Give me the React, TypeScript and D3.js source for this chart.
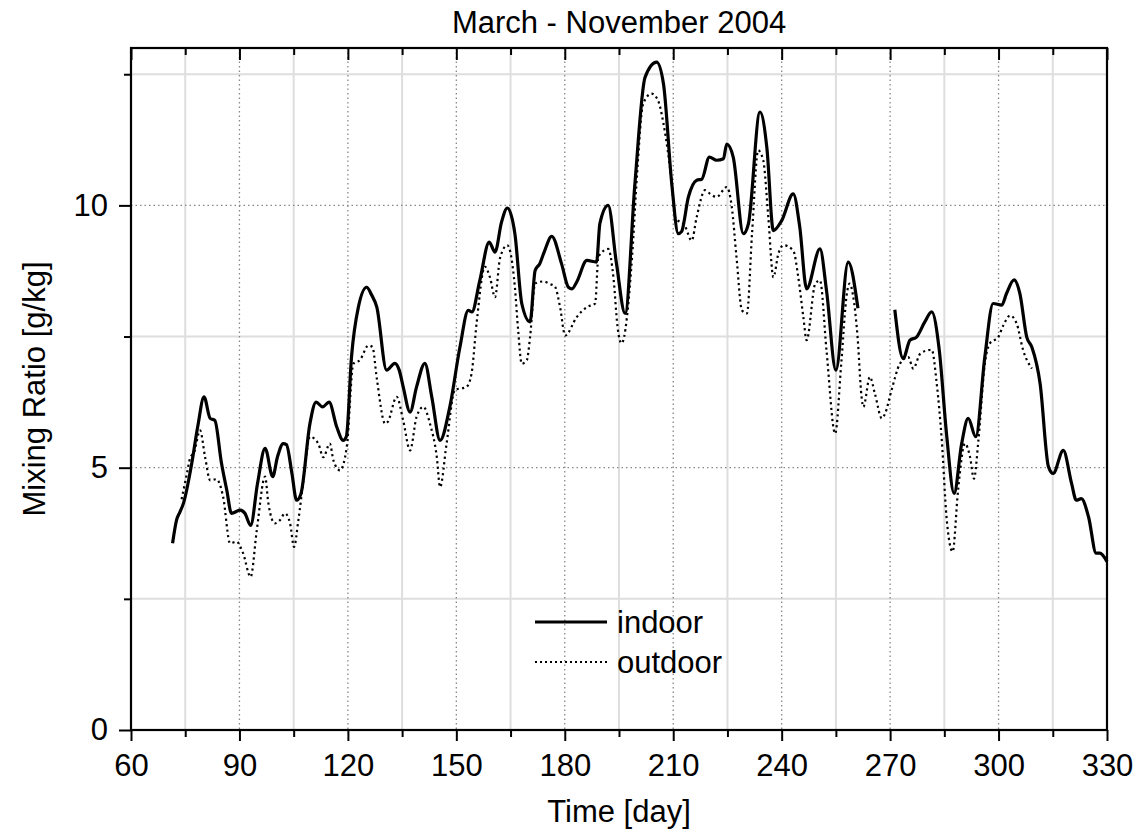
import React, { useEffect, useRef } from 'react';
import * as d3 from 'd3';

// indoor series, null marks the gap in the record
const indoorDays = [71.5, 72.6, 73.5, 74.5, 76.8, 78.5, 80.2, 81.9, 83.2, 85, 86.5, 87.8, 90.2, 91.5, 93.1, 95, 97.1, 99.2, 100.5, 102.1, 103, 104.5, 105.8, 107, 109.5, 111.2, 113, 114.8, 116.9, 118.7, 119.6, 121, 122.9, 125.2, 126.5, 128, 130.7, 133, 134.2, 135.3, 137.2, 139, 141.3, 143.2, 145.5, 148.2, 151, 153.3, 154.3, 156.5, 159.1, 160.7, 162.5, 164.1, 166.2, 168.1, 170.4, 171.8, 173.1, 174.3, 176.4, 179.1, 181, 182, 183.3, 186.1, 188.8, 189.7, 192, 194.3, 196.7, 199.4, 202.2, 205.4, 207.3, 209.6, 211.4, 212.3, 214.2, 216.5, 217.9, 220, 222, 223.9, 224.8, 226.6, 229.4, 230.8, 234, 235.9, 237.7, 240, 243.2, 245, 246.9, 250.6, 252.4, 255, 258.4, 261.1, 266, 271.3, 273.6, 275.5, 277.3, 279.6, 281.5, 283.6, 285.6, 287.7, 289.8, 291.6, 293.7, 296.2, 298.5, 300.9, 302.2, 304.3, 305.9, 307.8, 309.2, 311.5, 313.8, 315.1, 317.9, 320.2, 321.5, 322.9, 324.9, 327, 328, 330];
const indoorValues = [3.56, 4.0, 4.15, 4.32, 5.08, 5.8, 6.35, 5.94, 5.9, 5.1, 4.57, 4.13, 4.19, 4.13, 3.9, 4.7, 5.37, 4.83, 5.2, 5.46, 5.44, 4.9, 4.38, 4.5, 5.84, 6.25, 6.16, 6.25, 5.78, 5.52, 5.6, 7.11, 8.06, 8.44, 8.3, 8.06, 6.86, 6.99, 6.86, 6.54, 6.06, 6.54, 6.99, 6.35, 5.52, 6.16, 7.3, 8.0, 7.97, 8.57, 9.3, 9.11, 9.68, 9.95, 9.46, 8.13, 7.78, 8.76, 8.89, 9.11, 9.41, 8.89, 8.44, 8.41, 8.54, 8.95, 8.92, 9.65, 10.0, 8.89, 7.94, 10.41, 12.44, 12.73, 12.32, 10.41, 9.46, 9.5, 10.16, 10.48, 10.5, 10.92, 10.86, 10.89, 11.17, 10.92, 9.46, 9.65, 11.78, 11.1, 9.52, 9.71, 10.22, 9.59, 8.41, 9.17, 8.38, 6.86, 8.92, 8.04, null, 8.01, 7.08, 7.43, 7.49, 7.78, 7.97, 7.24, 5.65, 4.51, 5.46, 5.94, 5.59, 7.11, 8.13, 8.1, 8.32, 8.58, 8.32, 7.49, 7.3, 6.6, 5.02, 4.89, 5.33, 4.7, 4.38, 4.41, 4.06, 3.37, 3.37, 3.21];

const outdoorDays = [74, 75.5, 76.3, 77.5, 79.1, 80.5, 81.9, 83.6, 85.5, 87.4, 89.2, 91, 93.1, 94.8, 97.1, 98, 99.8, 101.2, 102.6, 104, 105.1, 106.3, 107.7, 109.5, 111.8, 113.2, 115, 116, 117.8, 119.7, 121.5, 123.3, 125.7, 126.8, 128, 130.3, 131, 133.5, 135.3, 137.2, 139, 140.9, 142.7, 144.6, 145.5, 147.3, 149.6, 152.8, 154.2, 155.6, 157.9, 159.3, 160.7, 162.1, 164.1, 166.2, 167.1, 168.1, 169.5, 170.4, 171.8, 174, 176, 177.3, 178.7, 180.1, 183.3, 186.1, 188.4, 189.3, 192, 193.5, 194.6, 195.7, 198.6, 200, 201.7, 204, 205.8, 207.3, 209.6, 210.5, 213.3, 215.1, 216.5, 218.8, 220.2, 222, 224.8, 226.2, 227.5, 229, 230.4, 231.8, 233.5, 234.9, 236.3, 237.7, 239.1, 240.5, 243.2, 244.6, 246, 246.9, 249.3, 250.6, 252.4, 254.8, 256.5, 258, 258.8, 259.7, 261, 262.1, 262.6, 264.4, 265.8, 267.7, 268.6, 270.4, 272.7, 275, 276.4, 278.3, 280.6, 281.5, 282.9, 284.3, 285.6, 287.3, 288.8, 290.7, 292.1, 293.2, 294.4, 296.2, 297.6, 299.9, 301.3, 303.2, 305, 306.8, 309.2];
const outdoorValues = [4.4, 4.9, 5.17, 5.3, 5.71, 5.2, 4.76, 4.78, 4.44, 3.56, 3.59, 3.37, 2.92, 3.81, 4.83, 4.32, 3.94, 4.0, 4.13, 3.94, 3.49, 4.0, 4.76, 5.59, 5.46, 5.2, 5.46, 5.14, 4.95, 5.4, 6.98, 7.05, 7.33, 7.3, 6.7, 5.84, 5.87, 6.35, 5.9, 5.33, 5.97, 6.16, 5.84, 5.2, 4.63, 5.46, 6.48, 6.54, 6.79, 7.75, 8.83, 8.63, 8.25, 9.0, 9.24, 8.44, 7.62, 6.98, 7.05, 7.49, 8.51, 8.55, 8.5, 8.45, 8.06, 7.52, 7.87, 8.06, 8.13, 9.02, 9.17, 8.6, 7.68, 7.37, 9.0, 10.6, 11.94, 12.13, 12.0, 11.56, 10.41, 9.78, 9.6, 9.33, 9.78, 10.29, 10.22, 10.16, 10.35, 9.97, 9.02, 8.0, 7.94, 9.46, 11.05, 10.86, 9.78, 8.63, 9.08, 9.24, 9.14, 8.63, 7.87, 7.43, 8.51, 8.57, 7.24, 5.65, 7.0, 8.3, 8.51, 8.3, 7.49, 6.35, 6.16, 6.73, 6.41, 5.94, 6.03, 6.48, 6.98, 7.11, 6.89, 7.17, 7.24, 7.25, 6.6, 5.52, 4.06, 3.4, 4.57, 5.46, 5.21, 4.79, 5.5, 6.98, 7.37, 7.49, 7.71, 7.9, 7.75, 7.24, 6.89];

const xTicks = [60, 90, 120, 150, 180, 210, 240, 270, 300, 330];
const xMinorTicks = [75, 105, 135, 165, 195, 225, 255, 285, 315];
const yTicks = [0, 5, 10];
const yMinorTicks = [2.5, 7.5, 12.5];

const FONT = '"Liberation Sans", Arial, sans-serif';
const FS = 31;

const Chart = () => {
  const ref = useRef<SVGSVGElement>(null);

  useEffect(() => {
    const root = d3.select(ref.current);
    root.selectAll('*').remove();

    const margin = { top: 48, right: 33, bottom: 105, left: 131 },
      width = 1140 - margin.left - margin.right,
      height = 835 - margin.top - margin.bottom;

    const svg = root.append('g').attr('transform', `translate(${margin.left},${margin.top})`);

    const x = d3.scaleLinear().domain([60, 330]).range([0, width]);
    const y = d3.scaleLinear().domain([0, 13]).range([height, 0]);

    // light minor grid
    svg.append('g').selectAll('line').data(xMinorTicks).join('line')
      .attr('x1', d => x(d)).attr('x2', d => x(d)).attr('y1', 0).attr('y2', height)
      .attr('stroke', '#dedede').attr('stroke-width', 2);
    svg.append('g').selectAll('line').data(yMinorTicks).join('line')
      .attr('x1', 0).attr('x2', width).attr('y1', d => y(d)).attr('y2', d => y(d))
      .attr('stroke', '#dedede').attr('stroke-width', 2);

    // dotted major grid
    svg.append('g').selectAll('line').data(xTicks.slice(1, -1)).join('line')
      .attr('x1', d => x(d)).attr('x2', d => x(d)).attr('y1', 0).attr('y2', height)
      .attr('stroke', '#888').attr('stroke-width', 1.3).attr('stroke-dasharray', '1.5,3');
    svg.append('g').selectAll('line').data(yTicks.slice(1)).join('line')
      .attr('x1', 0).attr('x2', width).attr('y1', d => y(d)).attr('y2', d => y(d))
      .attr('stroke', '#888').attr('stroke-width', 1.3).attr('stroke-dasharray', '1.5,3');

    const styleAxis = (g) => {
      g.select('.domain').remove();
      g.selectAll('line').attr('stroke', '#000').attr('stroke-width', 2);
      g.selectAll('text').attr('font-family', FONT).attr('font-size', FS).attr('fill', '#000');
    };

    // bottom axis
    svg.append('g').attr('transform', `translate(0,${height})`)
      .call(d3.axisBottom(x).tickValues(xTicks).tickSize(11).tickPadding(13).tickFormat(d3.format('d')))
      .call(styleAxis);
    svg.append('g').attr('transform', `translate(0,${height})`)
      .call(d3.axisBottom(x).tickValues(xMinorTicks).tickSize(7).tickFormat(() => ''))
      .call(styleAxis);
    // top ticks point inward
    svg.append('g')
      .call(d3.axisBottom(x).tickValues(xTicks).tickSize(12).tickFormat(() => ''))
      .call(styleAxis);
    svg.append('g')
      .call(d3.axisBottom(x).tickValues(xMinorTicks).tickSize(7).tickFormat(() => ''))
      .call(styleAxis);
    // left axis
    svg.append('g')
      .call(d3.axisLeft(y).tickValues(yTicks).tickSize(12).tickPadding(11).tickFormat(d3.format('d')))
      .call(styleAxis);
    svg.append('g')
      .call(d3.axisLeft(y).tickValues(yMinorTicks).tickSize(7).tickFormat(() => ''))
      .call(styleAxis);

    // frame
    svg.append('rect').attr('width', width).attr('height', height)
      .attr('fill', 'none').attr('stroke', '#000').attr('stroke-width', 2.2);

    const line = d3.line()
      .defined(d => d[1] != null)
      .x(d => x(d[0]))
      .y(d => y(d[1]))
      .curve(d3.curveMonotoneX);

    const outdoor = outdoorDays.map((d, i) => [d, outdoorValues[i]]);
    const indoor = indoorDays.map((d, i) => [d, indoorValues[i]]);

    svg.append('path').datum(outdoor)
      .attr('d', line).attr('fill', 'none')
      .attr('stroke', '#000').attr('stroke-width', 2.2).attr('stroke-dasharray', '2.2,3.3');
    svg.append('path').datum(indoor)
      .attr('d', line).attr('fill', 'none')
      .attr('stroke', '#000').attr('stroke-width', 3.2).attr('stroke-linejoin', 'round');

    // legend
    const legend = [
      { name: 'indoor', w: 3.2, dash: null },
      { name: 'outdoor', w: 1.8, dash: '2,3' },
    ];
    const lg = root.append('g').attr('transform', 'translate(535,622)');
    lg.selectAll('line').data(legend).join('line')
      .attr('x1', 0).attr('x2', 72)
      .attr('y1', (d, i) => i * 40).attr('y2', (d, i) => i * 40)
      .attr('stroke', '#000').attr('stroke-width', d => d.w)
      .attr('stroke-dasharray', d => d.dash);
    lg.selectAll('text').data(legend).join('text')
      .attr('x', 82).attr('y', (d, i) => i * 40 + 11)
      .attr('font-family', FONT).attr('font-size', FS)
      .text(d => d.name);

    // titles
    root.append('text')
      .attr('x', margin.left + width / 2).attr('y', 33)
      .attr('text-anchor', 'middle')
      .attr('font-family', FONT).attr('font-size', FS)
      .text('March - November 2004');
    root.append('text')
      .attr('x', margin.left + width / 2).attr('y', 822)
      .attr('text-anchor', 'middle')
      .attr('font-family', FONT).attr('font-size', FS)
      .text('Time [day]');
    root.append('text')
      .attr('transform', `translate(45,${margin.top + height / 2}) rotate(-90)`)
      .attr('text-anchor', 'middle')
      .attr('font-family', FONT).attr('font-size', FS)
      .text('Mixing Ratio [g/kg]');
  }, []);

  return <svg ref={ref} width={1140} height={835} style={{ display: 'block', background: '#fff' }} />;
};

export default function App() {
  return (
    <div style={{ position: 'absolute', left: 0, top: 0 }}>
      <Chart />
    </div>
  );
}
